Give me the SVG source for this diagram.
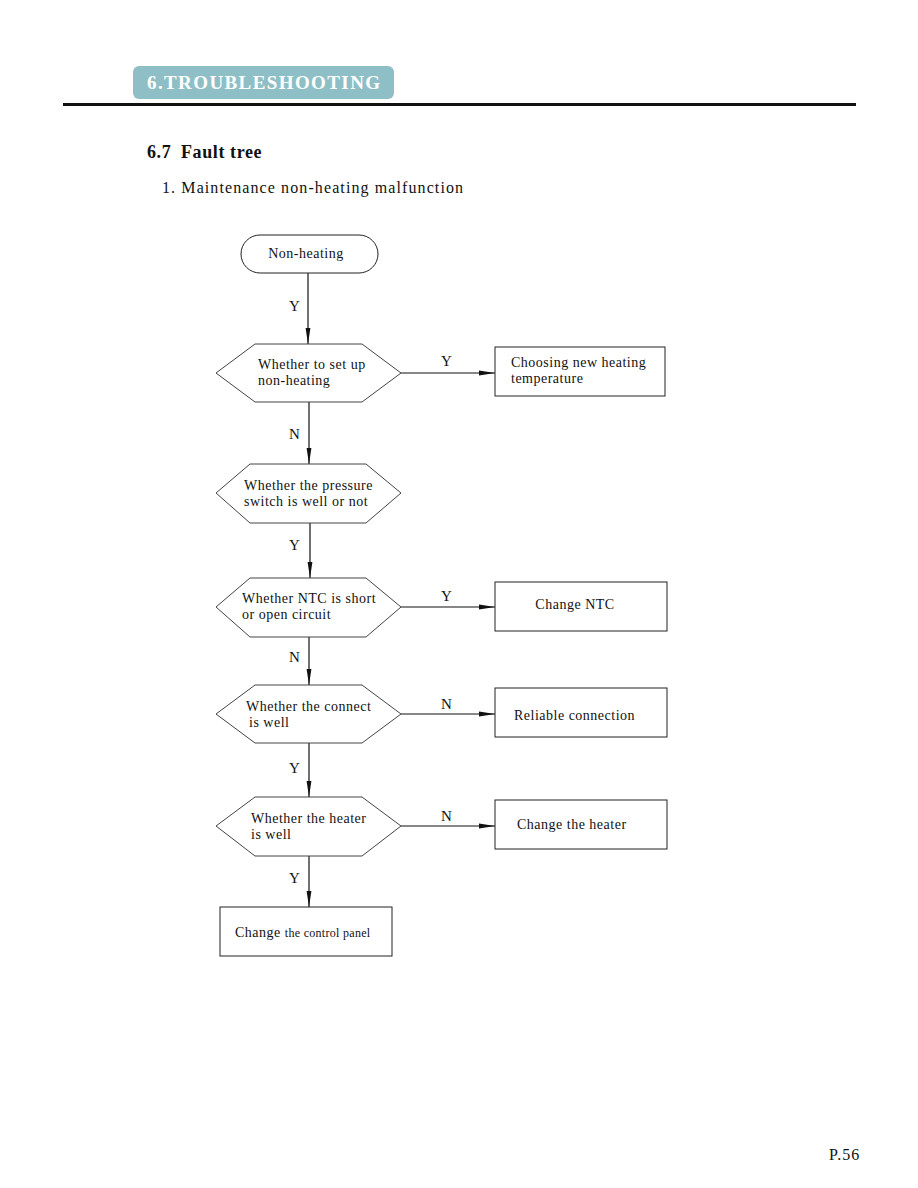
<svg xmlns="http://www.w3.org/2000/svg" width="918" height="1188" viewBox="0 0 918 1188">
<style>
text{font-family:"Liberation Serif","Times New Roman",serif;fill:#111}
.t{font-size:14px;letter-spacing:0.5px}
.lbl{font-size:15px}
.shape{fill:#fff;stroke:#444;stroke-width:1}
.box{fill:#fff;stroke:#222;stroke-width:1}
.conn{stroke:#111;stroke-width:1.2;fill:none}
</style>
<defs>
<marker id="arr" viewBox="0 0 16 6" refX="16" refY="3" markerWidth="16" markerHeight="6" markerUnits="userSpaceOnUse" orient="auto">
<path d="M0,0.6 L16,3 L0,5.4 Z" fill="#111"/>
</marker>
</defs>
<rect width="918" height="1188" fill="#fff"/>
<g id="header">
<rect x="133" y="66" width="261" height="33" rx="6" fill="#8fbfc6"/>
<text x="147" y="89" style="font-size:19px;font-weight:bold;fill:#fff;letter-spacing:1.4px">6.TROUBLESHOOTING</text>
<rect x="63" y="103" width="793" height="3" fill="#111"/>
<text x="147" y="158" style="font-size:18px;font-weight:bold;letter-spacing:0.6px">6.7<tspan x="181">Fault tree</tspan></text>
<text x="162" y="193" style="font-size:16px;letter-spacing:1.1px">1. Maintenance non-heating malfunction</text>
</g>
<g id="connectors">
<line class="conn" x1="308" y1="273" x2="308" y2="344" marker-end="url(#arr)"/>
<text class="lbl" x="289" y="311">Y</text>
<line class="conn" x1="401" y1="373" x2="495" y2="373" marker-end="url(#arr)"/>
<text class="lbl" x="441" y="366">Y</text>
<line class="conn" x1="309" y1="402" x2="309" y2="464" marker-end="url(#arr)"/>
<text class="lbl" x="289" y="439">N</text>
<line class="conn" x1="310" y1="523" x2="310" y2="578" marker-end="url(#arr)"/>
<text class="lbl" x="289" y="550">Y</text>
<line class="conn" x1="401" y1="607" x2="495" y2="607" marker-end="url(#arr)"/>
<text class="lbl" x="441" y="601">Y</text>
<line class="conn" x1="309" y1="637" x2="309" y2="685" marker-end="url(#arr)"/>
<text class="lbl" x="289" y="662">N</text>
<line class="conn" x1="401" y1="714" x2="495" y2="714" marker-end="url(#arr)"/>
<text class="lbl" x="441" y="709">N</text>
<line class="conn" x1="309" y1="743" x2="309" y2="797" marker-end="url(#arr)"/>
<text class="lbl" x="289" y="773">Y</text>
<line class="conn" x1="401" y1="826" x2="495" y2="826" marker-end="url(#arr)"/>
<text class="lbl" x="441" y="821">N</text>
<line class="conn" x1="309" y1="856" x2="309" y2="907" marker-end="url(#arr)"/>
<text class="lbl" x="289" y="883">Y</text>
</g>
<g id="start">
<rect class="box" x="241" y="235" width="137" height="38" rx="19"/>
<text class="t" x="306" y="258" text-anchor="middle">Non-heating</text>
</g>
<g id="q1">
<polygon class="shape" points="216,373 255,344 362,344 401,373 362,402 255,402"/>
<text class="t" x="258" y="369">Whether to set up</text>
<text class="t" x="258" y="385">non-heating</text>
</g>
<g id="a1">
<rect class="box" x="495" y="347" width="170" height="49"/>
<text class="t" x="511" y="367">Choosing new heating</text>
<text class="t" x="511" y="383">temperature</text>
</g>
<g id="q2">
<polygon class="shape" points="216,493 250,464 366,464 401,493 366,523 250,523"/>
<text class="t" x="244" y="490">Whether the pressure</text>
<text class="t" x="244" y="506">switch is well or not</text>
</g>
<g id="q3">
<polygon class="shape" points="216,607 250,578 366,578 401,607 366,637 250,637"/>
<text class="t" x="242" y="603">Whether NTC is short</text>
<text class="t" x="242" y="619">or open circuit</text>
</g>
<g id="a3">
<rect class="box" x="495" y="582" width="172" height="49"/>
<text class="t" x="575" y="609" text-anchor="middle">Change NTC</text>
</g>
<g id="q4">
<polygon class="shape" points="216,714 255,685 362,685 401,714 362,743 255,743"/>
<text class="t" x="246" y="711">Whether the connect</text>
<text class="t" x="249" y="727">is well</text>
</g>
<g id="a4">
<rect class="box" x="495" y="688" width="172" height="49"/>
<text class="t" x="514" y="720">Reliable connection</text>
</g>
<g id="q5">
<polygon class="shape" points="216,826 255,797 362,797 401,826 362,856 255,856"/>
<text class="t" x="251" y="823">Whether the heater</text>
<text class="t" x="251" y="839">is well</text>
</g>
<g id="a5">
<rect class="box" x="495" y="800" width="172" height="49"/>
<text class="t" x="517" y="829">Change the heater</text>
</g>
<g id="a6">
<rect class="box" x="220" y="907" width="172" height="49"/>
<text x="235" y="937" style="font-size:14px;letter-spacing:0.5px">Change <tspan style="font-size:12px;letter-spacing:0.3px">the control panel</tspan></text>
</g>
<g id="footer">
<text x="829" y="1160" style="font-size:16px;letter-spacing:1px">P.56</text>
</g>
</svg>
